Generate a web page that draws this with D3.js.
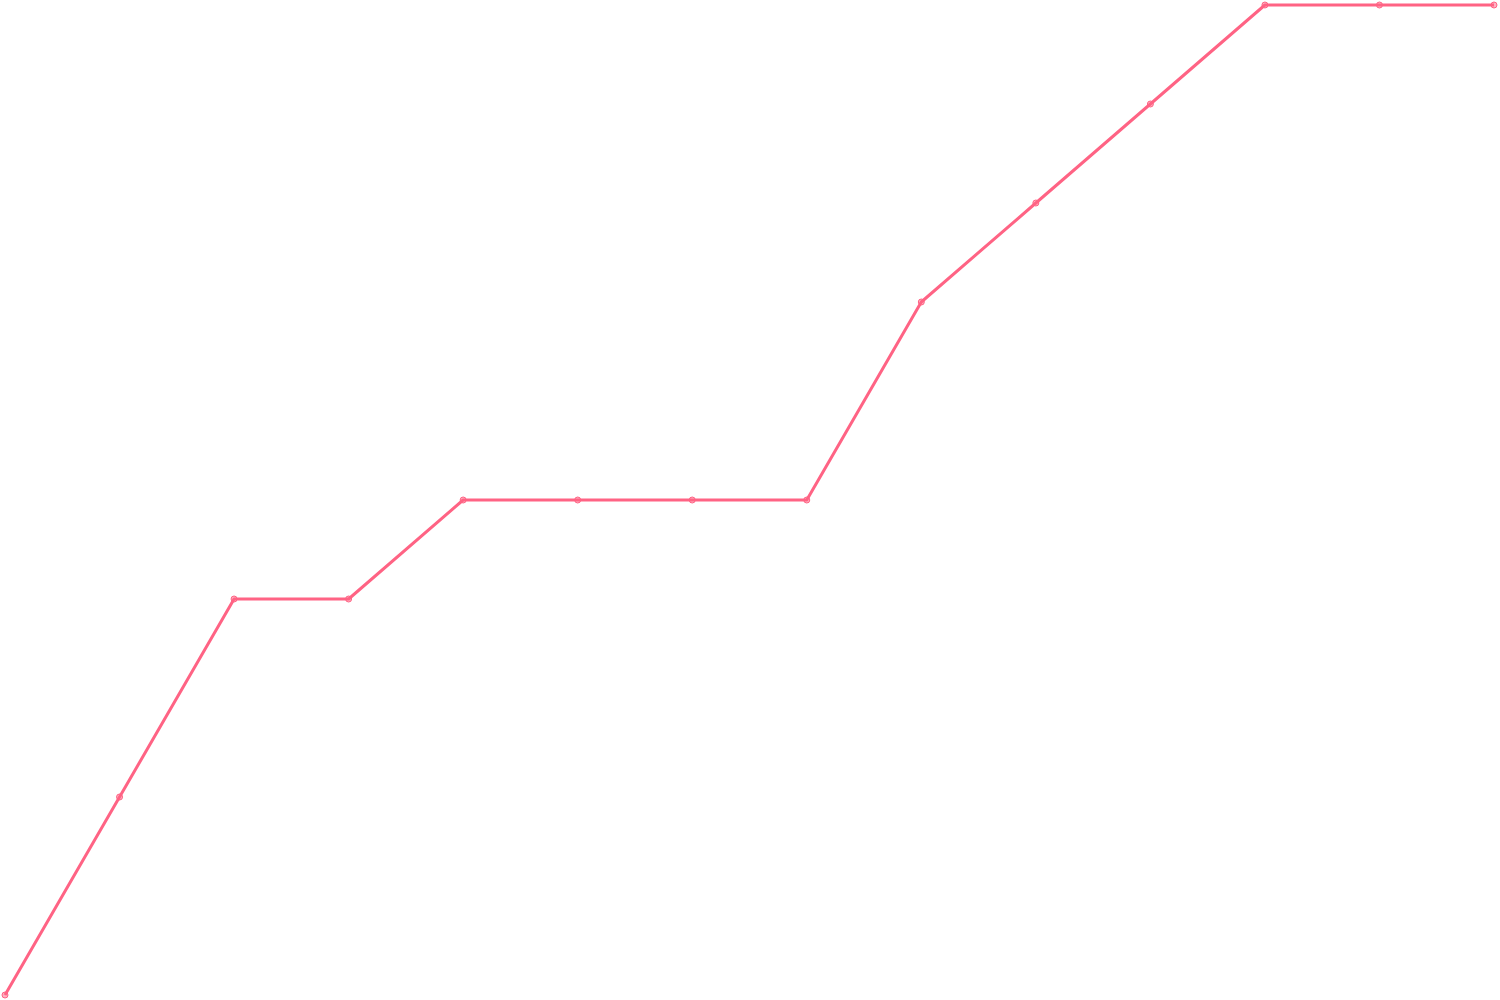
<!DOCTYPE html>
<html>
<head>
<meta charset="utf-8">
<script src="https://cdn.jsdelivr.net/npm/d3@7"></script>
<style>
  html, body { margin: 0; padding: 0; background: #fff; }
  svg { display: block; }
</style>
</head>
<body>
<div id="vis"></div>
<script>
  // data
  const labels = ["1", "2", "3", "4", "5", "6", "7", "8", "9", "10", "11", "12", "13", "14"]
  const values = [0, 2, 4, 4, 5, 5, 5, 5, 7, 8, 9, 10, 10, 10]

  const W = 1500, H = 1000
  const margin = { left: 5, right: 6, top: 5, bottom: 5 }

  const x = d3.scalePoint()
    .domain(labels)
    .range([margin.left, W - margin.right])

  const y = d3.scaleLinear()
    .domain([0, 10])
    .range([H - margin.bottom, margin.top])

  const svg = d3.select('#vis')
    .append('svg')
    .attr('width', W)
    .attr('height', H)

  const line = d3.line()
    .x((d, i) => x(labels[i]))
    .y(d => y(d))

  svg.append('path')
    .datum(values)
    .attr('fill', 'none')
    .attr('stroke', '#ff6384')
    .attr('stroke-width', 3)
    .attr('stroke-linejoin', 'round')
    .attr('d', line)

  // point markers
  svg.append('g')
    .selectAll('circle')
    .data(values)
    .enter()
    .append('circle')
    .attr('cx', (d, i) => x(labels[i]))
    .attr('cy', d => y(d))
    .attr('r', 3)
    .attr('fill', 'rgba(255,99,132,0.5)')
    .attr('stroke', '#ff6384')
    .attr('stroke-width', 1)
</script>
</body>
</html>
